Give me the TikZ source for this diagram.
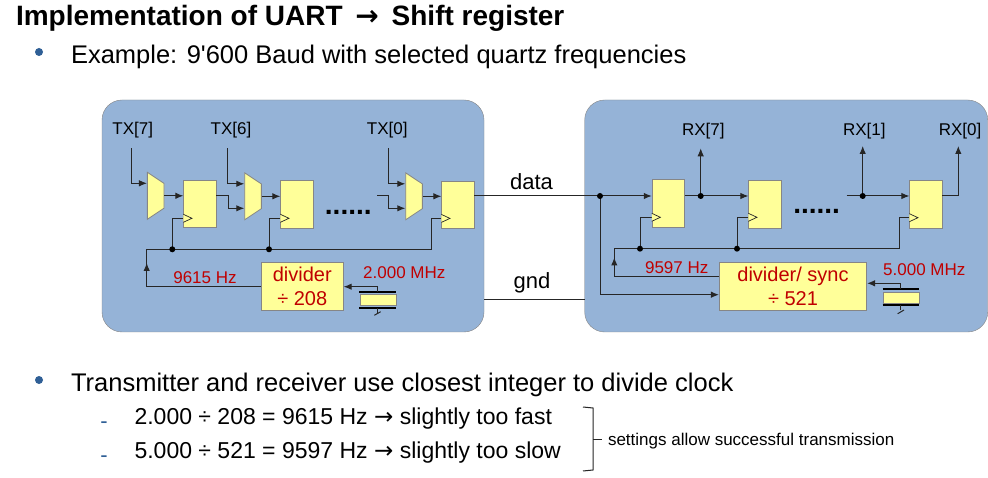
\documentclass[tikz,border=0pt]{standalone}
\usepackage{fontspec}
\setmainfont[Ligatures=TeXOff]{Liberation Sans}
\newfontfamily\arrowfont{DejaVu Sans}
\usetikzlibrary{shapes.geometric,arrows.meta}

\definecolor{panelblue}{HTML}{95B3D7}
\definecolor{boxyellow}{HTML}{FFFF99}
\definecolor{bordergray}{HTML}{868686}
\definecolor{labelred}{HTML}{C00000}
\definecolor{bulletblue}{HTML}{2F5F96}

\newcommand*{\xmax}{988}
\newcommand*{\ymax}{478}
\newcommand*{\busytx}{249.3}
\newcommand*{\busyrx}{248.7}
\newcommand*{\toarrow}{{\arrowfont →}}

\begin{document}
\begin{tikzpicture}
[
	x=1pt,y=-1pt,
	panel/.style={draw=bordergray,fill=panelblue,rounded corners=20pt},
	ffbox/.style={draw=bordergray,fill=boxyellow,line width=0.8pt,inner sep=0pt,minimum width=32.3pt,minimum height=47.7pt},
	divbox/.style={draw=bordergray,fill=boxyellow,line width=0.8pt,inner sep=0pt,minimum height=47.7pt,align=center,text=labelred,font=\fontsize{20}{23.5}\selectfont},
	mux/.style={draw=bordergray,fill=boxyellow,line width=0.8pt,trapezium,trapezium stretches=true,shape border rotate=270,inner sep=1pt,minimum width=47pt,minimum height=16.7pt,trapezium left angle=65.8,trapezium right angle=65.8},
	sig/.style={line width=1pt,black!85},
	arr/.style={sig,-{Latex[length=8pt,width=6.5pt]}},
	dotpt/.style={circle,fill=black,inner sep=0pt,minimum size=6pt},
	lab/.style={font=\fontsize{17}{20}\selectfont},
	redlab/.style={lab,text=labelred},
	wirelab/.style={font=\fontsize{22}{26}\selectfont},
	dotrow/.style={font=\bfseries\fontsize{28}{30}\selectfont},
	body/.style={font=\fontsize{25.5}{30}\selectfont,anchor=west},
	subbody/.style={font=\fontsize{23}{27}\selectfont,anchor=west},
	bullet/.style={circle,fill=bulletblue,inner sep=0pt,minimum size=8pt},
	dashmark/.style={font=\fontsize{22}{26}\selectfont,text=bulletblue},
	plate/.style={line width=2pt,black},
	quartz/.style={draw=bordergray,fill=boxyellow,inner sep=0pt,minimum width=36pt,minimum height=11.4pt},
	clk/.style={draw=black!85,fill=boxyellow,line width=0.7pt}
]
	\useasboundingbox[fill=white] (0,0) rectangle (\xmax,\ymax);

	% text lines
	\node[anchor=west,font=\bfseries\fontsize{28}{32}\selectfont] (title) at (12.5,18) {Implementation of UART\hspace{5pt} \toarrow{} \hspace{5pt}Shift register};
	\node[bullet] (b1) at (39,52) {};
	\node[body] (example) at (67.5,57) {Example: 9'600 Baud with selected quartz frequencies};
	\node[bullet] (b2) at (39,380) {};
	\node[body] (closest) at (67.5,385) {Transmitter and receiver use closest integer to divide clock};
	\node[dashmark] (d1) at (104,425) {-};
	\node[subbody] (fast) at (131,418.5) {2.000 ÷ 208 = 9615 Hz \toarrow{} slightly too fast};
	\node[dashmark] (d2) at (104,459) {-};
	\node[subbody] (slow) at (131,452.5) {5.000 ÷ 521 = 9597 Hz \toarrow{} slightly too slow};
	\node[anchor=west,font=\fontsize{17}{20}\selectfont] (settings) at (604.5,441) {settings allow successful transmission};

	% panels
	\draw[panel] (102,100) rectangle (484,332);
	\draw[panel] (584.7,100) rectangle (987.7,332);

	% transmitter
	\node[lab] (tx7) at (132.8,130.5) {TX[7]};
	\node[lab] (tx6) at (231,130.5) {TX[6]};
	\node[lab] (tx0) at (387.3,130.5) {TX[0]};
	\node[mux] (m1) at (155.7,195.8) {};
	\node[mux] (m2) at (253,196.3) {};
	\node[mux] (m3) at (414,196.3) {};
	\node[ffbox] (t1) at (199.9,203.9) {};
	\node[ffbox] (t2) at (296.9,204.5) {};
	\node[ffbox] (t3) at (457.9,204.9) {};
	\node[divbox,minimum width=82pt] (tdiv) at (302.3,286.5) {divider\\÷ 208};
	\node[redlab] (tfreq) at (205,277.3) {9615 Hz};
	\node[redlab] (txtal) at (404.3,272.3) {2.000 MHz};
	\node[dotrow] (tdots) at (348.3,212) {......};

	\coordinate (s3) at (377.3,196);
	\coordinate (j1) at (172.3,\busytx);
	\coordinate (j2) at (269,\busytx);
	\coordinate (tleft) at (146.7,\busytx);
	\coordinate (tup) at (146.7,263);

	\draw[arr] (131.7,148.3) |- ([yshift=12.5pt]m1.west);
	\draw[arr] (m1.east) -- (m1.east -| t1.west);
	\draw[arr] (t1.east |- m1.east) -- ++(11.7,0) |- ([yshift=-12pt]m2.west);
	\draw[arr] (227.7,148.3) |- ([yshift=12.5pt]m2.west);
	\draw[arr] (m2.east) -- (m2.east -| t2.west);
	\draw[arr] (388.7,148.3) |- ([yshift=12.5pt]m3.west);
	\draw[arr] (s3) -- ++(11.4,0) |- ([yshift=-12pt]m3.west);
	\draw[arr] (m3.east) -- (m3.east -| t3.west);

	\draw[sig] (tleft) -- (431,\busytx) |- ([yshift=-13.5pt]t3.west);
	\draw[sig] (j1) |- ([yshift=-14.4pt]t1.west);
	\draw[sig] (j2) |- ([yshift=-13.8pt]t2.west);
	\node[dotpt] at (j1) {};
	\node[dotpt] at (j2) {};
	\draw[sig] (tdiv.west) -- (146.7,286.5) -- (tleft);
	\draw[arr] (146.7,275) -- (tup);

	\foreach \ff/\dy in {t1/14.4,t2/13.8,t3/13.5}
		\draw[clk] ([yshift=-\dy pt+4pt]\ff.west) -- ++(8.6,4) -- ++(-8.6,4);

	% transmitter quartz
	\node[quartz] (tq) at (377.7,300) {};
	\coordinate (tqt) at (377.7,292);
	\coordinate (tqb) at (377.7,307.7);
	\draw[plate] (359.3,292) -- (395.7,292);
	\draw[plate] (359.3,307.7) -- (395.7,307.7);
	\draw[arr] (tqt) |- (tdiv.east |- 0,286.7);
	\draw[sig] (tqb) -- (377.7,313.3);
	\draw[sig] (374.3,315.3) -- (380.7,311.7);

	% wires between the panels
	\node[wirelab] (data) at (531.5,182) {data};
	\node[wirelab] (gnd) at (532,282.5) {gnd};
	\draw[sig] (t3.east |- 0,195.7) -- (584.7,195.7);
	\draw[sig] (484,300) -- (584.7,300);

	% receiver
	\node[lab] (rx7) at (703.3,131) {RX[7]};
	\node[lab] (rx1) at (864.3,131) {RX[1]};
	\node[lab] (rx0) at (960,131) {RX[0]};
	\node[ffbox] (r1) at (668.3,203.5) {};
	\node[ffbox] (r2) at (764.9,204.2) {};
	\node[ffbox] (r3) at (925.9,204.2) {};
	\node[divbox,minimum width=147.4pt] (rdiv) at (793,286.2) {divider/ sync\\÷ 521};
	\node[redlab] (rfreq) at (676.7,267.3) {9597 Hz};
	\node[redlab] (rxtal) at (924.3,270) {5.000 MHz};
	\node[dotrow] (rdots) at (816.6,211) {......};

	\coordinate (k0) at (600,196);
	\coordinate (k1) at (700.7,196);
	\coordinate (k2) at (862.7,196);
	\coordinate (s4) at (846.7,196);
	\coordinate (j3) at (640,\busyrx);
	\coordinate (j4) at (737,\busyrx);
	\coordinate (rleft) at (614.3,\busyrx);
	\coordinate (rup) at (614.3,257.5);

	\draw[sig] (584.7,196) -- (k0);
	\draw[arr] (k0) -- (r1.west |- k0);
	\draw[arr] (r1.east |- k1) -- (r2.west |- k1);
	\draw[arr] (s4) -- (r3.west |- s4);
	\draw[arr] (k1) -- (700.7,148.3);
	\draw[arr] (k2) -- (862.7,146);
	\draw[arr] (r3.east |- k2) -- (958.3,196) -- (958.3,146);
	\draw[arr] (k0) |- (rdiv.west |- 0,294.7);
	\node[dotpt] at (k0) {};
	\node[dotpt] at (k1) {};
	\node[dotpt] at (k2) {};

	\draw[sig] (rleft) -- (899.3,\busyrx) |- ([yshift=-13.5pt]r3.west);
	\draw[sig] (j3) |- ([yshift=-13.8pt]r1.west);
	\draw[sig] (j4) |- ([yshift=-13.1pt]r2.west);
	\node[dotpt] at (j3) {};
	\node[dotpt] at (j4) {};
	\draw[sig] (rdiv.west |- 0,276.3) -- (614.3,276.3) -- (rleft);
	\draw[arr] (614.3,270) -- (rup);

	\foreach \ff/\dy in {r1/13.8,r2/13.1,r3/13.5}
		\draw[clk] ([yshift=-\dy pt+4pt]\ff.west) -- ++(8.6,4) -- ++(-8.6,4);

	% receiver quartz
	\node[quartz] (rq) at (900.8,297.6) {};
	\coordinate (rqt) at (900.7,288.7);
	\coordinate (rqb) at (900.7,305.3);
	\draw[plate] (882.7,288.7) -- (919,288.7);
	\draw[plate] (882.7,305.3) -- (919,305.3);
	\draw[arr] (rqt) |- (rdiv.east |- 0,283.3);
	\draw[sig] (rqb) -- (900.7,310.5);
	\draw[sig] (897.7,313.7) -- (904,310);

	% bracket
	\draw[sig] (583,407) -- (593,408) -- (593,470) -- (583,471);
	\draw[sig] (593,439) -- (602,439);
\end{tikzpicture}
\end{document}
